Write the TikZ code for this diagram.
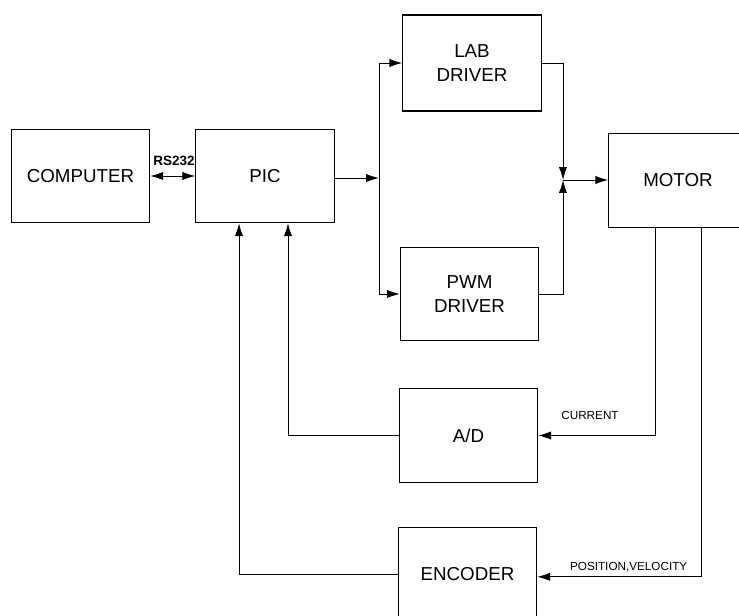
\documentclass[tikz,border=0pt]{standalone}
\usepackage{fontspec}
\setmainfont{Liberation Sans}
\usetikzlibrary{arrows.meta, positioning, calc}
\tikzset{
  bloque/.style={draw, line width=0.9pt, minimum width=4.15cm, minimum height=2.8cm,
                 inner sep=0pt, align=center, font=\fontsize{16}{20.5}\selectfont},
  etiq/.style={inner sep=1pt, font=\fontsize{10}{12}\selectfont},
  con/.style={-{Latex[length=11pt,width=7pt]}, line width=0.8pt},
  condoble/.style={{Latex[length=11pt,width=7pt]}-{Latex[length=11pt,width=7pt]}, line width=0.8pt},
}
\begin{document}
\begin{tikzpicture}
  \useasboundingbox (0,0) rectangle (22.17,-18.48);
  \clip (0,0) rectangle (22.17,-18.48);
  % bloques
  \node[bloque] (comp) at (2.415,-5.28) {COMPUTER};
  \node[bloque] (pic) at (7.95,-5.28) {PIC};
  \node[bloque, minimum height=2.88cm] (lab) at (14.16,-1.89) {LAB\\DRIVER};
  \node[bloque] (pwm) at (14.085,-8.82) {PWM\\DRIVER};
  \node[bloque] (motor) at (20.34,-5.415) {MOTOR};
  \node[bloque] (ad) at (14.055,-13.065) {A/D};
  \node[bloque] (enc) at (14.025,-17.235) {ENCODER};
  \coordinate (j1) at (11.37,-5.34);
  \coordinate (j2) at (16.89,-5.40);
  % conexiones
  \draw[condoble] (comp.east) -- (pic.west);
  \node[etiq, font=\bfseries\fontsize{11.5}{13}\selectfont] (rs) at (5.22,-4.83) {RS232};
  \draw[con] (pic.east |- j1) -- (j1);
  \draw[con] (j1) |- (lab.west);
  \draw[con] (j1) |- (pwm.west);
  \draw[con] (lab.east) -| (j2);
  \draw[con] (pwm.east) -| (j2);
  \draw[con] (j2) -- (j2 -| motor.west);
  \draw[con] ([xshift=-0.69cm]motor.south) |- (ad.east);
  \node[etiq] (cur) at (17.7,-12.45) {CURRENT};
  \draw[con] ([xshift=0.69cm]motor.south) |- ([yshift=-0.07cm]enc.east);
  \node[etiq] (posvel) at (18.86,-17.01) {POSITION,VELOCITY};
  \draw[con] (ad.west) -| ([xshift=0.69cm]pic.south);
  \draw[con] (enc.west) -| ([xshift=-0.78cm]pic.south);
\end{tikzpicture}
\end{document}
